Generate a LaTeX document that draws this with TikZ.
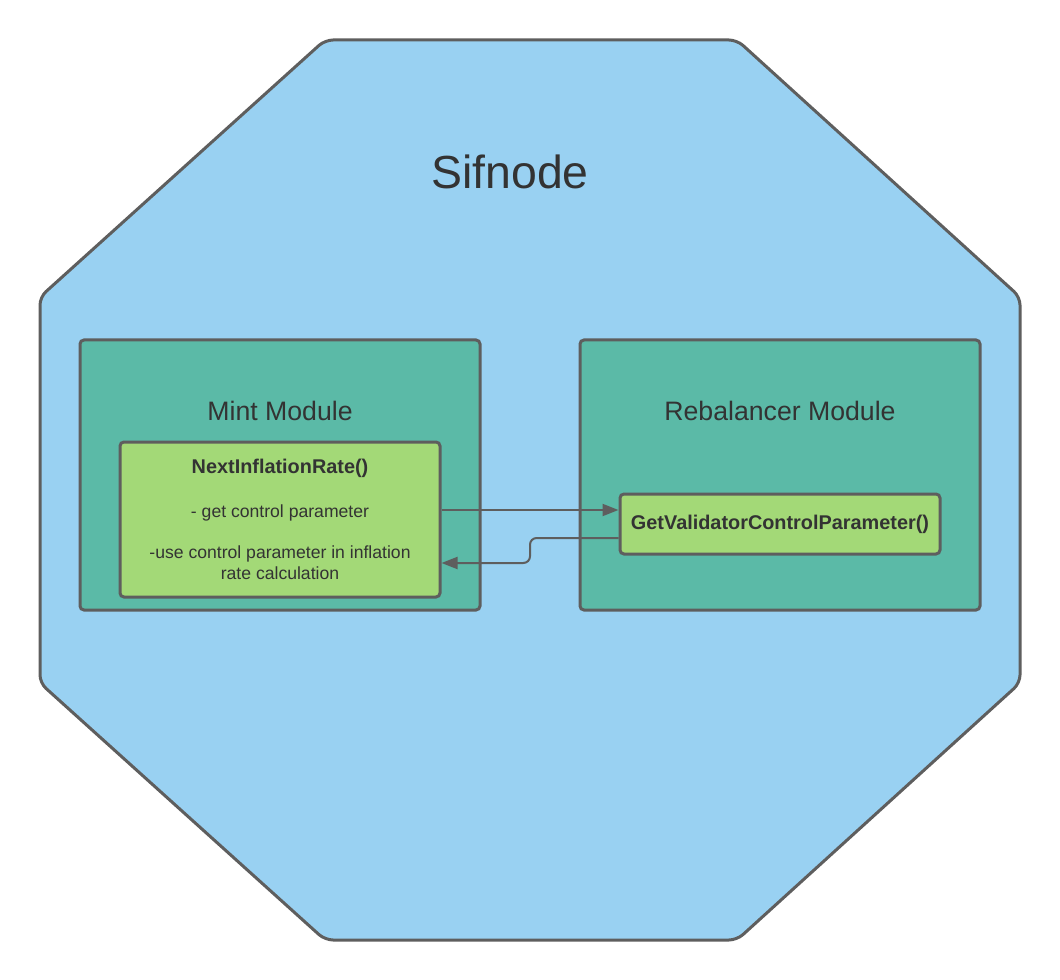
\documentclass[tikz,border=0pt]{standalone}
\usepackage{fontspec}
\setmainfont{Liberation Sans}
\usetikzlibrary{arrows.meta}

\definecolor{skyfill}{RGB}{153,209,242}
\definecolor{tealfill}{RGB}{91,186,167}
\definecolor{leaffill}{RGB}{163,217,119}
\definecolor{edgegray}{RGB}{94,94,94}
\definecolor{inkgray}{RGB}{51,51,51}

\tikzset{
  module/.style={draw=edgegray, fill=tealfill, line width=2.25pt, rounded corners=3pt,
    minimum width=300pt, minimum height=202.5pt},
  func/.style={draw=edgegray, fill=leaffill, line width=2.25pt, rounded corners=3pt,
    minimum width=240pt, text=inkgray, align=center, inner sep=0pt},
  conn/.style={draw=edgegray, line width=1.5pt, -{Triangle[length=12pt,width=9pt]}},
}

\begin{document}
\begin{tikzpicture}[x=0.75pt,y=0.75pt,yscale=-1,xscale=1]
\useasboundingbox (0,0) rectangle (1060,980);

%Shape: Octagon
\draw [draw=edgegray, fill=skyfill, line width=2.25pt, rounded corners=6pt]
  (325,40) -- (737,40) -- (1020,297) -- (1020,683) -- (737,940) -- (325,940)
  -- (40,683) -- (40,297) -- cycle ;
% Text Node
\node (sif) at (510,172) [text=inkgray, font=\fontsize{34.8}{42}\selectfont] {Sifnode};

%Shape: Modules
\node (mint) at (280,475) [module] {};
\node (reb) at (780,475) [module] {};
% Text Node
\node (mintlbl) at (280,411) [text=inkgray, font=\fontsize{20}{24}\selectfont] {Mint Module};
\node (reblbl) at (780,411) [text=inkgray, font=\fontsize{20}{24}\selectfont] {Rebalancer Module};

%Shape: Functions
\node (nir) at (280,519.5) [func, minimum height=116.25pt, font=\fontsize{13.2}{15.75}\selectfont] {%
  {\bfseries\fontsize{14.9}{16}\selectfont NextInflationRate()}\\[17pt]
  - get control parameter\\[15.5pt]
  -use control parameter in inflation\\
  rate calculation};
\node (gvc) at (780,524) [func, minimum height=45pt, font=\bfseries\fontsize{14.9}{17}\selectfont] {GetValidatorControlParameter()};

%Straight Lines
\draw [conn] (nir.east |- 0,510) -- ([yshift=-10.5pt]gvc.west) ;
\draw [conn, rounded corners=5pt] ([yshift=10.5pt]gvc.west) -- (530,538) -- (530,563) -- (nir.east |- 0,563) ;

\end{tikzpicture}
\end{document}
